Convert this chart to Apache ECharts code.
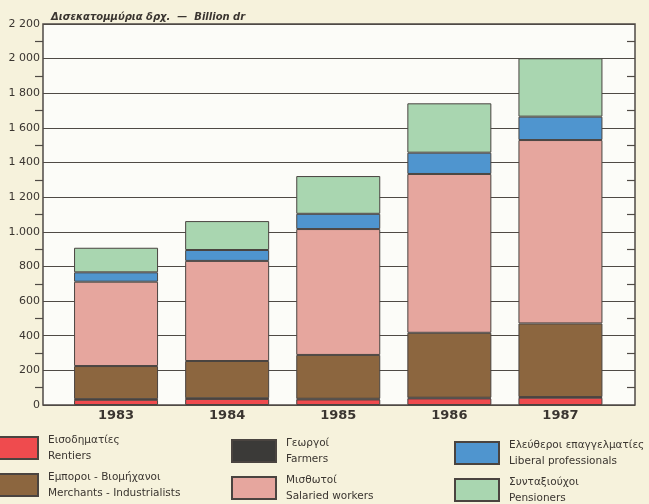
<!DOCTYPE html>
<html>
<head>
<meta charset="utf-8">
<script src="https://cdn.jsdelivr.net/npm/echarts@6/dist/echarts.min.js"></script>
<style>
  html, body { margin: 0; padding: 0; background: #f6f2dc; }
  #main { width: 649px; height: 504px; }
</style>
</head>
<body>
<div id="main"></div>
<script>
// years on the x axis
var years = ['1983', '1984', '1985', '1986', '1987'];
// billion drachmas, stacked from the bottom
var rentiers = [30, 35, 32, 38, 42];
var farmers = [4, 4, 4, 4, 4];
var merchants = [191, 215, 253, 375, 425];
var salaried = [487, 578, 727, 917, 1059];
var liberal = [54, 63, 88, 123, 135];
var pensioners = [142, 167, 218, 285, 337];
// y tick labels as printed
var yTicks = {0: '0', 200: '200', 400: '400', 600: '600', 800: '800', 1000: '1.000',
  1200: '1 200', 1400: '1 400', 1600: '1 600', 1800: '1 800', 2000: '2 000', 2200: '2 200'};

var greek = {
  'Rentiers': 'Εισοδηματίες',
  'Farmers': 'Γεωργοί',
  'Liberal professionals': 'Ελεύθεροι επαγγελματίες',
  'Merchants - Industrialists': 'Εμποροι - Βιομήχανοι',
  'Salaried workers': 'Μισθωτοί',
  'Pensioners': 'Συνταξιούχοι'
};

var font = 'DejaVu Sans, sans-serif';
var ink = '#3a3530';

var myChart = echarts.init(document.getElementById('main'));

var mk = function (name, data, color) {
  return {
    name: name,
    type: 'bar',
    stack: 'total',
    xAxisIndex: 1,
    yAxisIndex: 2,
    barWidth: 84,
    data: data,
    itemStyle: { color: color, borderColor: '#4a4440', borderWidth: 1 }
  };
};

var legendBase = {
  orient: 'vertical',
  padding: 0,
  itemWidth: 44,
  itemHeight: 22,
  itemGap: 5,
  height: 80,
  icon: 'rect',
  selectedMode: false,
  formatter: function (n) { return greek[n] + '\n' + n; },
  textStyle: { fontSize: 10.5, lineHeight: 16, color: ink, padding: [0, 0, 0, 5], fontFamily: font }
};

myChart.setOption({
  backgroundColor: '#f6f2dc',
  animation: false,
  title: {
    text: 'Δισεκατομμύρια δρχ.  —  Billion dr',
    left: 46,
    top: 7,
    textStyle: { fontSize: 10, fontStyle: 'italic', fontWeight: 'bold', color: ink, fontFamily: font }
  },
  legend: [
    Object.assign({}, legendBase, { left: -7, top: 432, data: ['Rentiers', 'Merchants - Industrialists'] }),
    Object.assign({}, legendBase, { left: 231, top: 435, data: ['Farmers', 'Salaried workers'] }),
    Object.assign({}, legendBase, { left: 454, top: 437, data: ['Liberal professionals', 'Pensioners'] })
  ],
  grid: [
    { left: 43, right: 14, top: 24, bottom: 99, show: true, backgroundColor: '#fcfcf8', borderColor: '#4f4a45', borderWidth: 1.5 },
    { left: 60.5, right: 33, top: 24, bottom: 99 }
  ],
  xAxis: [
    { type: 'category', gridIndex: 0, data: years, show: false },
    {
      type: 'category', gridIndex: 1, data: years,
      axisLine: { show: false }, axisTick: { show: false },
      axisLabel: { margin: 4, fontSize: 13, fontWeight: 'bold', color: ink, fontFamily: font }
    }
  ],
  yAxis: [
    {
      type: 'value', gridIndex: 0, min: 0, max: 2200, interval: 200,
      axisLine: { show: false },
      axisTick: { show: false },
      minorTick: { show: true, splitNumber: 2, length: 8, lineStyle: { color: '#4f4a45', width: 1.2 } },
      axisLabel: { margin: 3, fontSize: 11, color: ink, fontFamily: font,
        formatter: function (v) { return yTicks[v]; } },
      splitLine: { show: true, lineStyle: { color: '#4f4a45', width: 1.2 } }
    },
    {
      type: 'value', gridIndex: 0, position: 'right', min: 0, max: 2200, interval: 200,
      axisLine: { show: false }, axisTick: { show: false }, axisLabel: { show: false },
      splitLine: { show: false },
      minorTick: { show: true, splitNumber: 2, length: -8, lineStyle: { color: '#4f4a45', width: 1.2 } }
    },
    { type: 'value', gridIndex: 1, min: 0, max: 2200, show: false }
  ],
  series: [
    mk('Rentiers', rentiers, '#ef4b4e'),
    mk('Farmers', farmers, '#3b3a38'),
    mk('Merchants - Industrialists', merchants, '#8c663f'),
    mk('Salaried workers', salaried, '#e6a69e'),
    mk('Liberal professionals', liberal, '#4f95cf'),
    mk('Pensioners', pensioners, '#a9d6b0')
  ]
});
</script>
</body>
</html>
